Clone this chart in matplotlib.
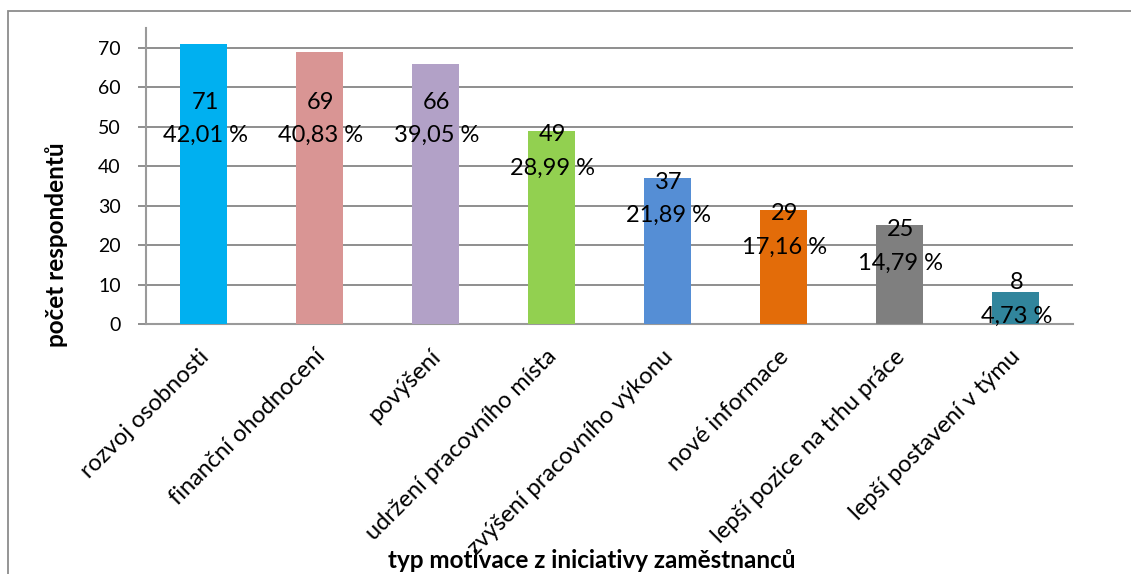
import matplotlib
matplotlib.use("Agg")
import matplotlib.pyplot as plt
import matplotlib.transforms as mtransforms
from matplotlib.patches import Rectangle
import numpy as np

plt.rcParams['font.family'] = ['Lato', 'DejaVu Sans']

categories = ["rozvoj osobnosti", "finanční ohodnocení", "povýšení",
              "udržení pracovního místa", "zvýšení pracovního výkonu",
              "nové informace", "lepší pozice na trhu práce",
              "lepší postavení v týmu"]
counts = [71, 69, 66, 49, 37, 29, 25, 8]
percents = ["42,01 %", "40,83 %", "39,05 %", "28,99 %", "21,89 %",
            "17,16 %", "14,79 %", "4,73 %"]
colors = ["#00B0F0", "#D99594", "#B2A1C7", "#92D050", "#558ED5",
          "#E36C09", "#7F7F7F", "#31859C"]
yticks = [0, 10, 20, 30, 40, 50, 60, 70]
ylabel = "počet respondentů"
xlabel = "typ motivace z iniciativy zaměstnanců"

W, H = 1131, 574
fig = plt.figure(figsize=(W / 100, H / 100), dpi=100)
ax = fig.add_axes([145.7 / W, 1 - 324 / H, (1073 - 145.7) / W, (324 - 28) / H])

x = np.arange(len(categories))
ax.bar(x, counts, width=0.405, color=colors, zorder=3)
ax.set_xlim(-0.5, len(categories) - 0.5)
ax.set_ylim(0, 75)
ax.set_yticks(yticks)
ax.set_yticklabels([str(t) for t in yticks], fontsize=14)
ax.yaxis.grid(True, color="#868686", linewidth=1.3, zorder=0)
ax.set_axisbelow(True)

for s in ["top", "right"]:
    ax.spines[s].set_visible(False)
for s in ["left", "bottom"]:
    ax.spines[s].set_color("#9A9A9A")
    ax.spines[s].set_linewidth(1.5)

ax.tick_params(axis="y", length=6, width=1.3, color="#868686", pad=12)
ax.tick_params(axis="x", length=0, pad=21)

ax.set_xticks(x)
ax.set_xticklabels(categories, rotation=45, ha="right", va="center",
                   rotation_mode="anchor", fontsize=17)
off = mtransforms.ScaledTranslation(2 / 100, 0, fig.dpi_scale_trans)
for lab in ax.get_xticklabels():
    lab.set_transform(lab.get_transform() + off)

# data labels
for xi, v, p in zip(x, counts, percents):
    yc = min(max(v - 5.3, 6.2), 52.0)
    ax.annotate(str(v), (xi, yc), xytext=(1, 12), textcoords="offset points",
                ha="center", va="center", fontsize=17, zorder=5)
    ax.annotate(p, (xi, yc), xytext=(1, -12), textcoords="offset points",
                ha="center", va="center", fontsize=17, zorder=5)

fig.text(57 / W, 1 - 245 / H, ylabel, rotation=90, ha="center", va="center",
         fontsize=17.5, fontweight="bold")
fig.text(592 / W, 1 - 561 / H, xlabel, ha="center", va="center",
         fontsize=17.5, fontweight="bold")

# outer frame
fig.patches.append(Rectangle((8 / W, -0.1), 1.2, 1 - 11 / H + 0.1,
                             transform=fig.transFigure, fill=False,
                             edgecolor="#8C8C8C", linewidth=1.3))

fig.savefig("out.png", dpi=100)
